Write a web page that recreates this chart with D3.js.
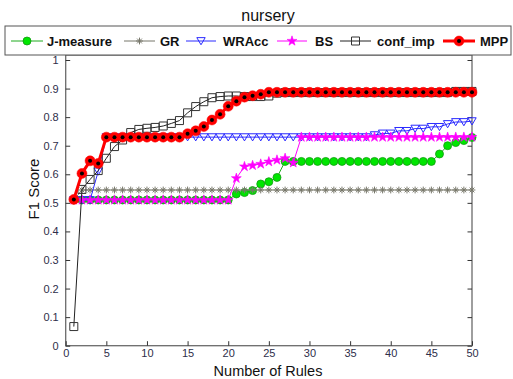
<!DOCTYPE html>
<html>
<head>
<meta charset="utf-8">
<script src="https://cdn.jsdelivr.net/npm/d3@7"></script>
<style>
  html, body { margin: 0; padding: 0; background: #fff; }
  svg { display: block; font-family: "Liberation Sans", Arial, sans-serif; }
</style>
</head>
<body>
<svg id="chart" width="513" height="379"></svg>
<script>
// Number of rules on the x axis
const rules = d3.range(1, 51);

// F1 score per method
const jMeasure = [0.51,0.51,0.51,0.51,0.51,0.51,0.51,0.51,0.51,0.51,
  0.51,0.51,0.51,0.51,0.51,0.51,0.51,0.51,0.51,0.51,
  0.531,0.536,0.543,0.566,0.574,0.589,0.645,0.645,0.645,0.645,
  0.645,0.645,0.645,0.645,0.645,0.645,0.645,0.645,0.645,0.645,
  0.645,0.645,0.645,0.645,0.645,0.671,0.700,0.711,0.718,0.729];

const gr = [0.51,0.545,0.545,0.545,0.545,0.545,0.545,0.545,0.545,0.545,
  0.545,0.545,0.545,0.545,0.545,0.545,0.545,0.545,0.545,0.545,
  0.545,0.545,0.545,0.545,0.545,0.545,0.545,0.545,0.545,0.545,
  0.545,0.545,0.545,0.545,0.545,0.545,0.545,0.545,0.545,0.545,
  0.545,0.545,0.545,0.545,0.545,0.545,0.545,0.545,0.545,0.545];

const wracc = [0.51,0.51,0.51,0.61,0.73,0.73,0.73,0.73,0.73,0.73,
  0.73,0.73,0.73,0.73,0.73,0.73,0.73,0.73,0.73,0.73,
  0.73,0.73,0.73,0.73,0.73,0.73,0.73,0.73,0.73,0.73,
  0.73,0.73,0.73,0.73,0.73,0.73,0.73,0.737,0.743,0.743,
  0.752,0.752,0.76,0.76,0.766,0.766,0.776,0.783,0.783,0.786];

const bs = [0.51,0.51,0.51,0.51,0.51,0.51,0.51,0.51,0.51,0.51,
  0.51,0.51,0.51,0.51,0.51,0.51,0.51,0.51,0.51,0.51,
  0.586,0.627,0.631,0.636,0.644,0.65,0.656,0.64,0.73,0.73,
  0.73,0.73,0.73,0.73,0.73,0.73,0.73,0.73,0.73,0.73,
  0.73,0.73,0.73,0.73,0.73,0.73,0.73,0.73,0.73,0.73];

const confImp = [0.067,0.547,0.582,0.613,0.656,0.697,0.72,0.746,0.757,0.761,
  0.764,0.769,0.778,0.788,0.815,0.837,0.854,0.868,0.872,0.874,
  0.874,0.872,0.872,0.872,0.874,0.884,0.886,0.886,0.886,0.886,
  0.886,0.886,0.886,0.886,0.886,0.886,0.886,0.886,0.886,0.886,
  0.886,0.886,0.886,0.886,0.886,0.886,0.886,0.89,0.89,0.89];

const mpp = [0.512,0.603,0.647,0.638,0.73,0.73,0.73,0.73,0.73,0.73,
  0.73,0.73,0.73,0.73,0.742,0.752,0.767,0.79,0.81,0.838,
  0.856,0.87,0.875,0.88,0.887,0.887,0.887,0.887,0.887,0.887,
  0.887,0.887,0.887,0.887,0.887,0.887,0.887,0.887,0.887,0.887,
  0.887,0.887,0.887,0.887,0.887,0.887,0.887,0.887,0.887,0.887];

const seriesNames = ["J-measure", "GR", "WRAcc", "BS", "conf_imp", "MPP"];
const xTicks = [0, 5, 10, 15, 20, 25, 30, 35, 40, 45, 50];
const yTicks = [0, 0.1, 0.2, 0.3, 0.4, 0.5, 0.6, 0.7, 0.8, 0.9, 1];

const svg = d3.select("#chart");
const plot = { left: 65.7, right: 472, top: 55, bottom: 345.7 };

const x = d3.scaleLinear().domain([0, 50]).range([plot.left, plot.right]);
const y = d3.scaleLinear().domain([0, 1]).range([plot.bottom, 60]);

// Marker path generators (centered at 0,0)
const circlePath = r => `M${-r},0a${r},${r} 0 1,0 ${2*r},0a${r},${r} 0 1,0 ${-2*r},0Z`;
const asteriskPath = s => `M${-s},0H${s}M0,${-s}V${s}M${-s*0.7},${-s*0.7}L${s*0.7},${s*0.7}M${-s*0.7},${s*0.7}L${s*0.7},${-s*0.7}`;
const triDownPath = s => `M${-s},${-s*0.8}H${s}L0,${s*0.9}Z`;
const squarePath = s => `M${-s},${-s}H${s}V${s}H${-s}Z`;
const starPath = d3.symbol().type(d3.symbolStar).size(30)();

const series = [
  { name: seriesNames[0], values: jMeasure, line: "#1faa1f", width: 1,
    marker: circlePath(4), fill: "#00e600", stroke: "#139a13", sw: 0.8 },
  { name: seriesNames[1], values: gr, line: "#77776a", width: 1,
    marker: asteriskPath(3.4), fill: "none", stroke: "#77776a", sw: 1 },
  { name: seriesNames[2], values: wracc, line: "#2a2aff", width: 1,
    marker: triDownPath(4.2), fill: "none", stroke: "#2a2aff", sw: 1 },
  { name: seriesNames[3], values: bs, line: "#ff00ff", width: 1,
    marker: starPath, fill: "#ff00ff", stroke: "#ff00ff", sw: 0.6 },
  { name: seriesNames[4], values: confImp, line: "#222", width: 1,
    marker: squarePath(4), fill: "none", stroke: "#333", sw: 1 },
  { name: seriesNames[5], values: mpp, line: "#ff0000", width: 3,
    marker: circlePath(5), fill: "#ff0000", stroke: "#ff0000", sw: 0.5, dot: true }
];

// Axes frame
const axisColor = "#6b6b6b";
svg.append("rect")
  .attr("x", plot.left).attr("y", plot.top)
  .attr("width", plot.right - plot.left).attr("height", plot.bottom - plot.top)
  .attr("fill", "#fff").attr("stroke", axisColor).attr("stroke-width", 1.3);

// Inward ticks on left/right and bottom
const tickLen = 4.5;
const tickColor = "#333";
const tickText = "#2e2e4a";

const yAxisL = d3.axisLeft(y).tickValues(yTicks).tickSizeInner(-tickLen).tickSizeOuter(0)
  .tickFormat(d => d3.format("~g")(d)).tickPadding(7);
const gy = svg.append("g").attr("transform", `translate(${plot.left},0)`).call(yAxisL);
gy.select(".domain").remove();
gy.selectAll(".tick line").attr("stroke", tickColor);
gy.selectAll(".tick text").attr("fill", tickText).style("font-size", "11px")
  .style("font-family", "Liberation Sans, Arial, sans-serif");

const yAxisR = d3.axisRight(y).tickValues(yTicks).tickSizeInner(-tickLen).tickSizeOuter(0).tickFormat("");
const gyr = svg.append("g").attr("transform", `translate(${plot.right},0)`).call(yAxisR);
gyr.select(".domain").remove();
gyr.selectAll(".tick line").attr("stroke", tickColor);

const xAxis = d3.axisBottom(x).tickValues(xTicks).tickSizeInner(-tickLen).tickSizeOuter(0).tickPadding(4);
const gx = svg.append("g").attr("transform", `translate(0,${plot.bottom})`).call(xAxis);
gx.select(".domain").remove();
gx.selectAll(".tick line").attr("stroke", tickColor);
gx.selectAll(".tick text").attr("fill", tickText).style("font-size", "11px")
  .style("font-family", "Liberation Sans, Arial, sans-serif");

// Series lines and markers
const lineGen = d3.line().x((d, i) => x(rules[i])).y(d => y(d));
series.forEach(s => {
  const g = svg.append("g");
  g.append("path").datum(s.values).attr("d", lineGen)
    .attr("fill", "none").attr("stroke", s.line).attr("stroke-width", s.width)
    .attr("stroke-linejoin", "round");
  const m = g.selectAll("g.m").data(s.values).join("g")
    .attr("transform", (d, i) => `translate(${x(rules[i])},${y(d)})`);
  m.append("path").attr("d", s.marker)
    .attr("fill", s.fill).attr("stroke", s.stroke).attr("stroke-width", s.sw);
  if (s.dot) m.append("circle").attr("r", 2).attr("fill", "#000");
});

// Title
svg.append("text").attr("x", 268).attr("y", 21).attr("text-anchor", "middle")
  .style("font-size", "16px").attr("fill", "#111").text("nursery");

// Legend
const lg = svg.append("g");
lg.append("rect").attr("x", 5).attr("y", 26).attr("width", 506).attr("height", 29)
  .attr("fill", "#fff").attr("stroke", "#555").attr("stroke-width", 1);
const legendPos = [
  { x1: 11, x2: 43, tx: 47 },
  { x1: 124, x2: 155, tx: 160 },
  { x1: 186, x2: 216, tx: 223 },
  { x1: 277, x2: 307, tx: 315 },
  { x1: 340, x2: 371, tx: 377 },
  { x1: 443, x2: 475, tx: 480 }
];
series.forEach((s, i) => {
  const p = legendPos[i];
  const ly = 41;
  lg.append("line").attr("x1", p.x1).attr("x2", p.x2).attr("y1", ly).attr("y2", ly)
    .attr("stroke", s.line).attr("stroke-width", s.width);
  const mg = lg.append("g").attr("transform", `translate(${(p.x1 + p.x2) / 2},${ly})`);
  mg.append("path").attr("d", s.marker).attr("fill", s.fill)
    .attr("stroke", s.stroke).attr("stroke-width", s.sw);
  if (s.dot) mg.append("circle").attr("r", 2).attr("fill", "#000");
  lg.append("text").attr("x", p.tx).attr("y", 45.5)
    .style("font-size", "13px").style("font-weight", "bold").attr("fill", "#111")
    .text(s.name);
});

// Axis labels
svg.append("text").attr("x", 268).attr("y", 376).attr("text-anchor", "middle")
  .style("font-size", "14.5px").attr("fill", "#111").text("Number of Rules");
svg.append("text").attr("transform", "translate(39,189) rotate(-90)")
  .attr("text-anchor", "middle").style("font-size", "15px").attr("fill", "#111").text("F1 Score");
</script>
</body>
</html>
